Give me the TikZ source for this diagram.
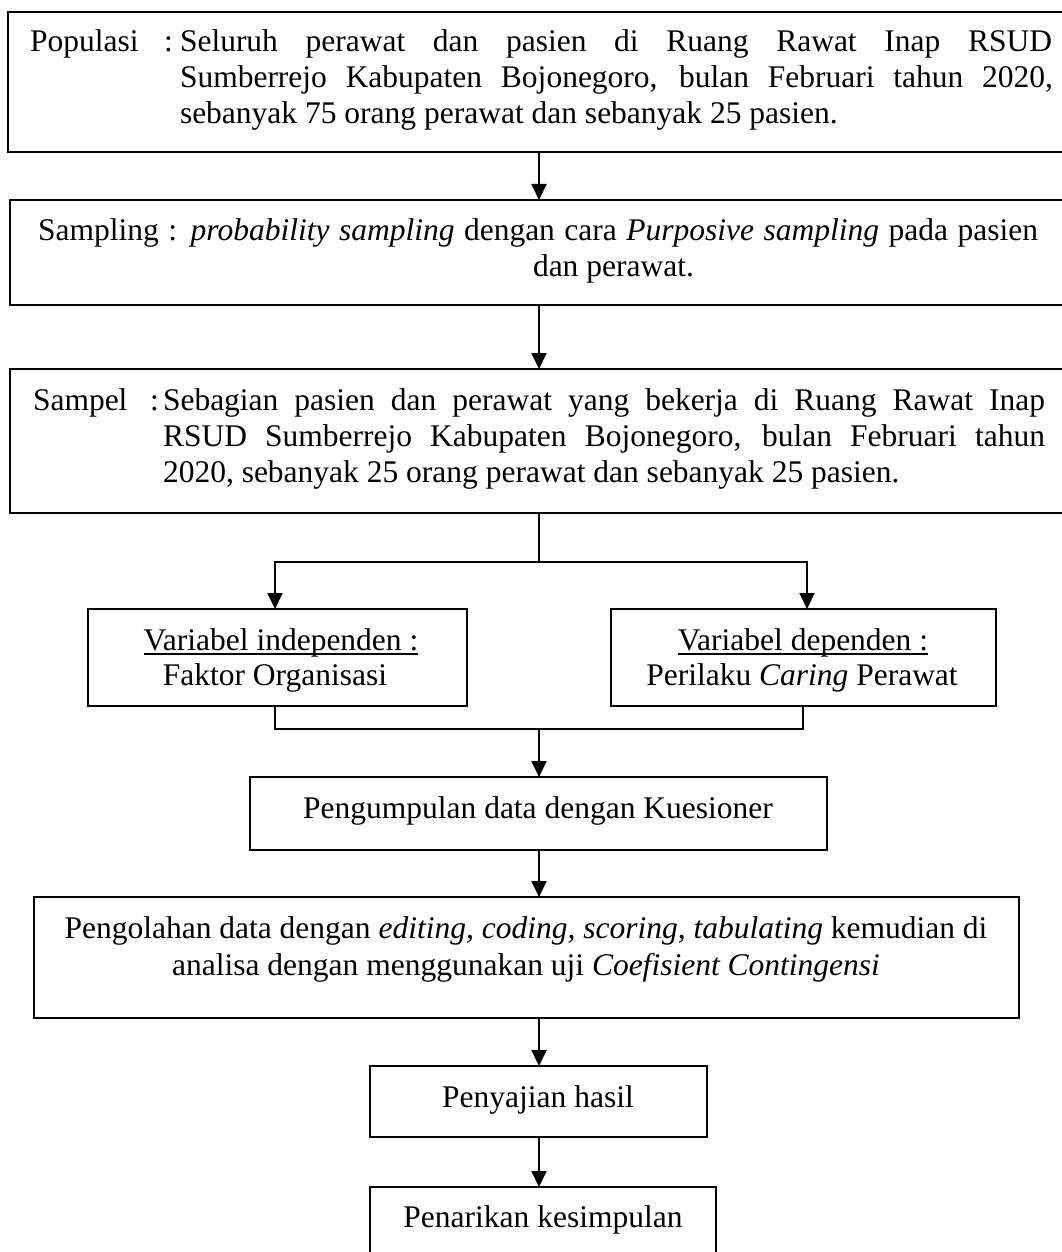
\documentclass[tikz,border=0pt]{standalone}
\usepackage{fontspec}
\setmainfont{Liberation Serif}
\usetikzlibrary{arrows.meta}
\newcommand{\wul}[1]{\setbox0=\hbox{#1}\rlap{\rule[-5pt]{\wd0}{1.8pt}}\box0}
\begin{document}
\fontsize{31.5}{36}\selectfont
\begin{tikzpicture}[x=1pt,y=-1pt,
  box/.style={draw, line width=2.3pt, inner sep=0pt, outer sep=0pt, anchor=north west},
  ln/.style={draw, line width=2pt, line join=miter},
  arr/.style={ln, -{Triangle[length=16pt,width=15pt]}},
  txt/.style={anchor=base west, inner sep=0pt, outer sep=0pt},
  ctr/.style={anchor=base, inner sep=0pt, outer sep=0pt}]
\useasboundingbox (0,0) rectangle (1062,1252);
% boxes
\node[box, minimum width=1080pt, minimum height=140pt] (b1) at (8,12) {};
\node[box, minimum width=1080pt, minimum height=105pt] (b2) at (10,200) {};
\node[box, minimum width=1080pt, minimum height=144pt] (b3) at (10,369) {};
\node[box, minimum width=379pt, minimum height=97pt] (bL) at (88,609) {};
\node[box, minimum width=385pt, minimum height=97pt] (bR) at (611,609) {};
\node[box, minimum width=577pt, minimum height=73pt] (bK) at (250,777) {};
\node[box, minimum width=985pt, minimum height=121pt] (bO) at (34,897) {};
\node[box, minimum width=337pt, minimum height=71pt] (bH) at (370,1066) {};
\node[box, minimum width=346pt, minimum height=113pt] (bP) at (370,1187) {};
% texts: Populasi
\node[txt] (t1a) at (30,52) {Populasi};
\node[txt] (t1b) at (164,52) {:};
\node[txt] (t1c) at (180,52) {\makebox[872pt][s]{Seluruh perawat dan pasien di Ruang Rawat Inap RSUD}};
\node[txt] (t1d) at (180,88) {\makebox[873pt][s]{Sumberrejo Kabupaten Bojonegoro, bulan Februari tahun 2020,}};
\node[txt] (t1e) at (180,124) {sebanyak 75 orang perawat dan sebanyak 25 pasien.};
% Sampling
\node[txt] (t2a) at (38,240) {\makebox[1000pt][s]{Sampling : \textit{probability sampling} dengan cara \textit{Purposive sampling} pada pasien}};
\node[txt] (t2b) at (533,276) {dan perawat.};
% Sampel
\node[txt] (t3a) at (33,410) {Sampel};
\node[txt] (t3b) at (150,410) {:};
\node[txt] (t3c) at (163,410) {\makebox[882pt][s]{Sebagian pasien dan perawat yang bekerja di Ruang Rawat Inap}};
\node[txt] (t3d) at (163,446) {\makebox[882pt][s]{RSUD Sumberrejo Kabupaten Bojonegoro, bulan Februari tahun}};
\node[txt] (t3e) at (163,482) {2020, sebanyak 25 orang perawat dan sebanyak 25 pasien.};
% variables
\node[ctr] (tLa) at (281,650) {\wul{Variabel independen :}};
\node[ctr] (tLb) at (275,685) {Faktor Organisasi};
\node[ctr] (tRa) at (803,650) {\wul{Variabel dependen :}};
\node[ctr] (tRb) at (802,685) {Perilaku \textit{Caring} Perawat};
% others
\node[ctr] (tK) at (538,818) {Pengumpulan data dengan Kuesioner};
\node[ctr] (tOa) at (526,938) {Pengolahan data dengan \textit{editing, coding, scoring, tabulating} kemudian di};
\node[ctr] (tOb) at (526,975) {analisa dengan menggunakan uji \textit{Coefisient Contingensi}};
\node[ctr] (tH) at (538,1107) {Penyajian hasil};
\node[ctr] (tP) at (543,1227) {Penarikan kesimpulan};
% connectors
\coordinate (ax) at (539,0);
\coordinate (lx) at (275,0);
\coordinate (rx) at (807,0);
\coordinate (rx2) at (803,0);
\coordinate (br) at (539,562);
\coordinate (mg) at (539,729);
\draw[arr] (ax |- b1.south) -- (ax |- b2.north);
\draw[arr] (ax |- b2.south) -- (ax |- b3.north);
\draw[ln] (ax |- b3.south) -- (br);
\draw[arr] (br) -| (lx |- bL.north);
\draw[arr] (br) -| (rx |- bR.north);
\draw[ln] (lx |- bL.south) |- (mg);
\draw[ln] (rx2 |- bR.south) |- (mg);
\draw[arr] (mg) -- (ax |- bK.north);
\draw[arr] (ax |- bK.south) -- (ax |- bO.north);
\draw[arr] (ax |- bO.south) -- (ax |- bH.north);
\draw[arr] (ax |- bH.south) -- (ax |- bP.north);
\end{tikzpicture}
\end{document}
